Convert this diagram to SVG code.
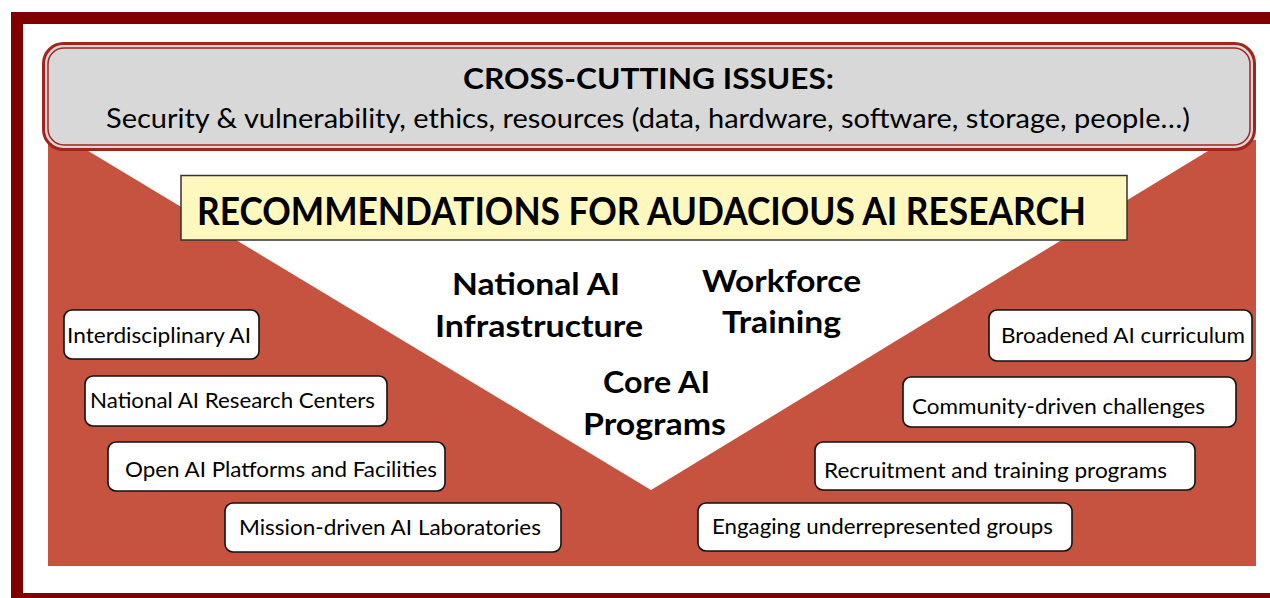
<svg xmlns="http://www.w3.org/2000/svg" width="1270" height="598" viewBox="0 0 1270 598">
<style>
.frame{fill:#800000}
.box rect{fill:#ffffff;stroke:#111111;stroke-width:1.6}
.box text{font-family:Lato,"Open Sans","Liberation Sans",sans-serif;font-size:21px;fill:#000000}
.center text{font-family:Lato,"Open Sans","Liberation Sans",sans-serif;font-size:30px;font-weight:bold;fill:#000000;text-anchor:start}
.ban{font-family:Lato,"Open Sans","Liberation Sans",sans-serif;fill:#000000}
</style>
<rect x="0" y="0" width="1270" height="598" fill="#ffffff"/>
<g id="frame">
<rect class="frame" x="11" y="12" width="1259" height="12"/>
<rect class="frame" x="11" y="12" width="12" height="586"/>
<rect class="frame" x="11" y="593" width="1259" height="5"/>
</g>
<g id="background">
<rect x="48" y="140" width="1208" height="426" fill="#C5533F"/>
<polygon points="70,140 651,490 1226,140" fill="#ffffff"/>
</g>
<g id="cross-cutting">
<rect x="43.5" y="43.5" width="1211" height="106" rx="20" fill="#D8D8D8" stroke="#A5231B" stroke-width="3"/>
<rect x="48" y="48" width="1202" height="97" rx="16" fill="none" stroke="#A5231B" stroke-width="1.5"/>
<text class="ban" x="463" y="89" font-size="29" font-weight="bold" textLength="371" lengthAdjust="spacingAndGlyphs">CROSS-CUTTING ISSUES:</text>
<text class="ban" x="106" y="128" font-size="26" textLength="1084" lengthAdjust="spacingAndGlyphs">Security &amp; vulnerability, ethics, resources (data, hardware, software, storage, people…)</text>
</g>
<g id="recommendations">
<rect x="181" y="175.5" width="946" height="64.5" fill="#FFF8BE" stroke="#333333" stroke-width="1.5"/>
<text class="ban" x="197" y="225" font-size="38" font-weight="bold" textLength="889" lengthAdjust="spacingAndGlyphs">RECOMMENDATIONS FOR AUDACIOUS AI RESEARCH</text>
</g>
<g id="center-labels" class="center">
<g id="national-ai-infrastructure">
<text x="452" y="295" textLength="168" lengthAdjust="spacingAndGlyphs">National AI</text>
<text x="435" y="337" textLength="208" lengthAdjust="spacingAndGlyphs">Infrastructure</text>
</g>
<g id="workforce-training">
<text x="702" y="292" textLength="159" lengthAdjust="spacingAndGlyphs">Workforce</text>
<text x="722" y="333" textLength="119" lengthAdjust="spacingAndGlyphs">Training</text>
</g>
<g id="core-ai-programs">
<text x="603" y="393" textLength="107" lengthAdjust="spacingAndGlyphs">Core AI</text>
<text x="583" y="435" textLength="143" lengthAdjust="spacingAndGlyphs">Programs</text>
</g>
</g>
<g id="left-items">
<g id="interdisciplinary-ai" class="box">
<rect x="64" y="310" width="195" height="49" rx="8"/>
<text x="67" y="343" textLength="184" lengthAdjust="spacingAndGlyphs">Interdisciplinary AI</text>
</g>
<g id="national-ai-research-centers" class="box">
<rect x="85" y="376" width="302" height="50" rx="8"/>
<text x="90" y="408" textLength="285" lengthAdjust="spacingAndGlyphs">National AI Research Centers</text>
</g>
<g id="open-ai-platforms" class="box">
<rect x="108" y="442" width="337" height="49" rx="8"/>
<text x="125" y="477" textLength="312" lengthAdjust="spacingAndGlyphs">Open AI Platforms and Facilities</text>
</g>
<g id="mission-driven-labs" class="box">
<rect x="225" y="503" width="336" height="49" rx="8"/>
<text x="239" y="535" textLength="302" lengthAdjust="spacingAndGlyphs">Mission-driven AI Laboratories</text>
</g>
</g>
<g id="right-items">
<g id="broadened-curriculum" class="box">
<rect x="989" y="310" width="263" height="51" rx="8"/>
<text x="1001" y="343" textLength="244" lengthAdjust="spacingAndGlyphs">Broadened AI curriculum</text>
</g>
<g id="community-challenges" class="box">
<rect x="903" y="377" width="333" height="50" rx="8"/>
<text x="912" y="414" textLength="293" lengthAdjust="spacingAndGlyphs">Community-driven challenges</text>
</g>
<g id="recruitment-training" class="box">
<rect x="815" y="442" width="380" height="48" rx="8"/>
<text x="824" y="478" textLength="343" lengthAdjust="spacingAndGlyphs">Recruitment and training programs</text>
</g>
<g id="engaging-groups" class="box">
<rect x="698" y="503" width="374" height="48" rx="8"/>
<text x="712" y="534" textLength="341" lengthAdjust="spacingAndGlyphs">Engaging underrepresented groups</text>
</g>
</g>
<g id="connectors"/>
</svg>
